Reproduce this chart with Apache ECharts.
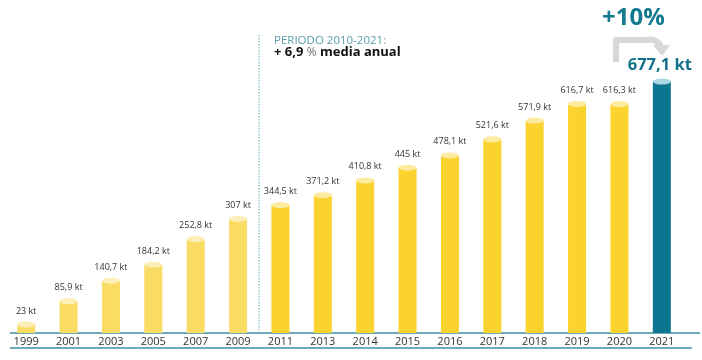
<!DOCTYPE html>
<html><head><meta charset="utf-8">
<script src="https://cdn.jsdelivr.net/npm/echarts@6/dist/echarts.min.js"></script>
<style>html,body{margin:0;padding:0;background:#fff}#c{width:702px;height:360px}</style>
</head><body><div id="c"></div>
<script>
var years = ['1999','2001','2003','2005','2007','2009','2011','2013','2014','2015','2016','2017','2018','2019','2020','2021'];
var values = [23, 85.9, 140.7, 184.2, 252.8, 307, 344.5, 371.2, 410.8, 445, 478.1, 521.6, 571.9, 616.7, 616.3, 677.1];
var labels = ['23 kt','85,9 kt','140,7 kt','184,2 kt','252,8 kt','307 kt','344,5 kt','371,2 kt','410,8 kt','445 kt','478,1 kt','521,6 kt','571,9 kt','616,7 kt','616,3 kt','677,1 kt'];

var FONT = '"Open Sans", "Noto Sans", sans-serif';
function barColor(i){ if(i===15) return '#0E7590'; if(i<6) return '#FADB63'; return '#FBD32E'; }
function capColor(i){ if(i===15) return '#A9D8E4'; if(i<6) return '#FDEFB8'; return '#FDEBA0'; }

var barData = values.map(function(v,i){
  var d = {value:v, itemStyle:{color:barColor(i)}};
  if(i===15){
    d.label = {show:true, formatter:labels[i], color:'#11708A', fontSize:16.5, fontWeight:'bold', distance:8, offset:[-2,0]};
  } else {
    d.label = {show:true, formatter:labels[i]};
  }
  return d;
});
var capData = values.map(function(v,i){ return {value:v, itemStyle:{color:capColor(i)}}; });

var chart = echarts.init(document.getElementById('c'), null, {renderer:'canvas'});
chart.setOption({
  animation:false,
  grid:{left:5, right:19, top:73, bottom:27},
  xAxis:{type:'category', data:years, axisLine:{show:false}, axisTick:{show:false},
    axisLabel:{interval:0, color:'#333', fontSize:11, fontFamily:FONT, margin:3}},
  yAxis:{type:'value', min:0, max:700, show:false, splitLine:{show:false}},
  series:[
    {type:'bar', data:barData, barWidth:18,
      label:{show:true, position:'top', distance:9, color:'#333', fontSize:9, fontFamily:FONT}},
    {type:'pictorialBar', data:capData, symbol:'circle', symbolSize:[18,6], symbolPosition:'end', symbolOffset:[0,'-50%'], z:3}
  ],
  graphic:[
    {type:'line', shape:{x1:10,y1:333,x2:700,y2:333}, style:{stroke:'#3E8FA3', lineWidth:1.5}},
    {type:'line', shape:{x1:10,y1:348,x2:692,y2:348}, style:{stroke:'#3E8FA3', lineWidth:1.5}},
    {type:'line', shape:{x1:259,y1:35,x2:259,y2:333}, style:{stroke:'#5FA9B8', lineWidth:1, lineDash:[1.5,1.5]}},
    {type:'text', left:274, top:35, style:{text:'PERIODO 2010-2021:', fill:'#5A9FAE', font:'11.5px '+FONT}},
    {type:'text', left:274, top:46, style:{text:'{b|+ 6,9 }{p|%}{b| media anual}', font:'bold 13px '+FONT,
      rich:{b:{fill:'#111', fontWeight:'bold', fontSize:13, fontFamily:FONT}, p:{fill:'#777', fontSize:12, fontFamily:FONT}}}},
    {type:'text', left:602, top:6, style:{text:'+10%', fill:'#12798F', font:'bold 24px '+FONT}},
    {type:'polyline', shape:{points:[[616,62],[616,40],[650,40]]}, style:{stroke:'#D8D8D8', lineWidth:6, fill:null, lineJoin:'round'}},
    {type:'polyline', shape:{points:[[648,40],[656,41],[661,47]], smooth:0.6}, style:{stroke:'#D8D8D8', lineWidth:6, fill:null}},
    {type:'polygon', shape:{points:[[653,45],[670,45],[662,56]]}, style:{fill:'#D8D8D8'}}
  ]
});
</script></body></html>
